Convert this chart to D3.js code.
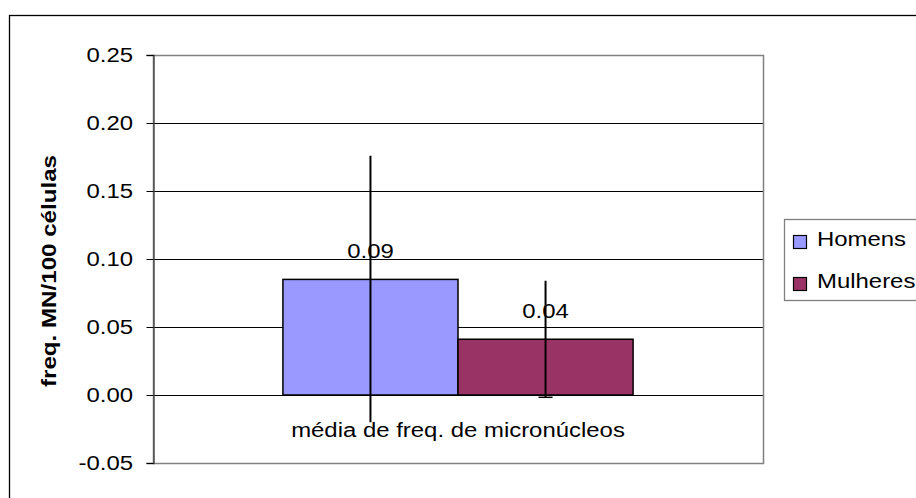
<!DOCTYPE html>
<html><head><meta charset="utf-8">
<script src="https://cdn.jsdelivr.net/npm/d3@7"></script>
<style>body{margin:0;background:#fff}svg{display:block;font-family:"Liberation Sans",Arial,sans-serif}</style>
</head><body><svg id="c" width="916" height="498"></svg>
<script>
const categories = ["média de freq. de micronúcleos"];
const series = ["Homens", "Mulheres"];
const values = [0.085, 0.041];
const labels = ["0.09", "0.04"];
const errLow = [-0.020, -0.0017];
const errHigh = [0.176, 0.084];
const colors = ["#9999FF", "#993366"];
const yTicks = [-0.05, 0, 0.05, 0.10, 0.15, 0.20, 0.25];
const yTitle = "freq. MN/100 células";

const FS = 21, SX = 1.14;
const svg = d3.select("#c");
const L = 153, R = 763, T = 55, B = 463;
const y = d3.scaleLinear().domain([-0.05, 0.25]).range([B, T]);
const x0 = d3.scaleBand().domain(categories).range([L, R]).paddingOuter(0.371).paddingInner(0);
const x1 = d3.scaleBand().domain(series).range([0, x0.bandwidth()]);

function stext(parent, x, yy, str, anchor) {
  return parent.append("text").attr("transform", `translate(${x},${yy}) scale(${SX},1)`)
    .attr("text-anchor", anchor || "start").attr("font-size", FS).attr("fill", "#000").text(str);
}

// outer border
svg.append("rect").attr("x", 9.5).attr("y", 15.5).attr("width", 940).attr("height", 520)
  .attr("fill", "none").attr("stroke", "#000").attr("stroke-width", 1.3);

// gridlines
svg.append("g").selectAll("line").data(yTicks.filter(t => t > -0.05 && t < 0.25)).join("line")
  .attr("x1", L).attr("x2", R).attr("y1", d => Math.round(y(d)) + 0.5).attr("y2", d => Math.round(y(d)) + 0.5)
  .attr("stroke", "#000").attr("stroke-width", 1);

// plot border
svg.append("rect").attr("x", L + 0.5).attr("y", T + 0.5).attr("width", R - L).attr("height", B - T)
  .attr("fill", "none").attr("stroke", "#808080").attr("stroke-width", 1.5);

// y axis
const fmt = d => d3.format(".2f")(d).replace("\u2212", "-");
const yAxis = d3.axisLeft(y).tickValues(yTicks).tickFormat(fmt).tickSize(7).tickPadding(13);
const ga = svg.append("g").attr("transform", `translate(${L + 0.5},0)`).call(yAxis);
ga.select(".domain").attr("stroke", "#404040").attr("stroke-width", 1.3);
ga.selectAll(".tick line").attr("stroke", "#000");
ga.selectAll(".tick text").attr("font-size", FS).attr("fill", "#000")
  .attr("font-family", "Liberation Sans, Arial, sans-serif")
  .attr("x", null).attr("transform", `translate(-20.5,0) scale(${SX},1)`);
ga.selectAll(".tick").attr("transform", d => `translate(0,${Math.round(y(d)) + 0.5})`);

// y title
svg.append("text").attr("transform", `translate(56,271) rotate(-90) scale(1.15,1)`).attr("text-anchor", "middle")
  .attr("font-size", 21).attr("font-weight", "bold").text(yTitle);

// bars
const data = series.map((s, i) => ({ s, v: values[i], lab: labels[i], lo: errLow[i], hi: errHigh[i], c: colors[i] }));
const g = svg.append("g").attr("transform", `translate(${x0(categories[0])},0)`);
g.selectAll("rect").data(data).join("rect")
  .attr("x", d => x1(d.s)).attr("width", x1.bandwidth())
  .attr("y", d => y(d.v)).attr("height", d => y(0) - y(d.v))
  .attr("fill", d => d.c).attr("stroke", "#000").attr("stroke-width", 1.5);

// error bars
g.selectAll("line.err").data(data).join("line").attr("class", "err")
  .attr("x1", d => x1(d.s) + x1.bandwidth() / 2).attr("x2", d => x1(d.s) + x1.bandwidth() / 2)
  .attr("y1", d => y(d.hi)).attr("y2", d => y(d.lo)).attr("stroke", "#000").attr("stroke-width", 2);
g.selectAll("line.cap").data(data.filter(d => d.lo > -0.01)).join("line").attr("class", "cap")
  .attr("x1", d => x1(d.s) + x1.bandwidth() / 2 - 7).attr("x2", d => x1(d.s) + x1.bandwidth() / 2 + 7)
  .attr("y1", d => y(d.lo)).attr("y2", d => y(d.lo)).attr("stroke", "#000").attr("stroke-width", 1.5);

// data labels
data.forEach(d => stext(g, x1(d.s) + x1.bandwidth() / 2, y(d.v) - 21, d.lab, "middle"));

// category label
stext(svg, x0(categories[0]) + x0.bandwidth() / 2, 437, categories[0], "middle");

// legend
const lg = svg.append("g");
lg.append("rect").attr("x", 784.5).attr("y", 219.5).attr("width", 160).attr("height", 81)
  .attr("fill", "#fff").attr("stroke", "#808080").attr("stroke-width", 1.3);
series.forEach((s, i) => {
  const yy = 235 + i * 42;
  lg.append("rect").attr("x", 793.5).attr("y", yy + 0.5).attr("width", 13).attr("height", 13)
    .attr("fill", colors[i]).attr("stroke", "#000").attr("stroke-width", 1.2);
  stext(lg, 817, yy + 11, s);
});
</script></body></html>
